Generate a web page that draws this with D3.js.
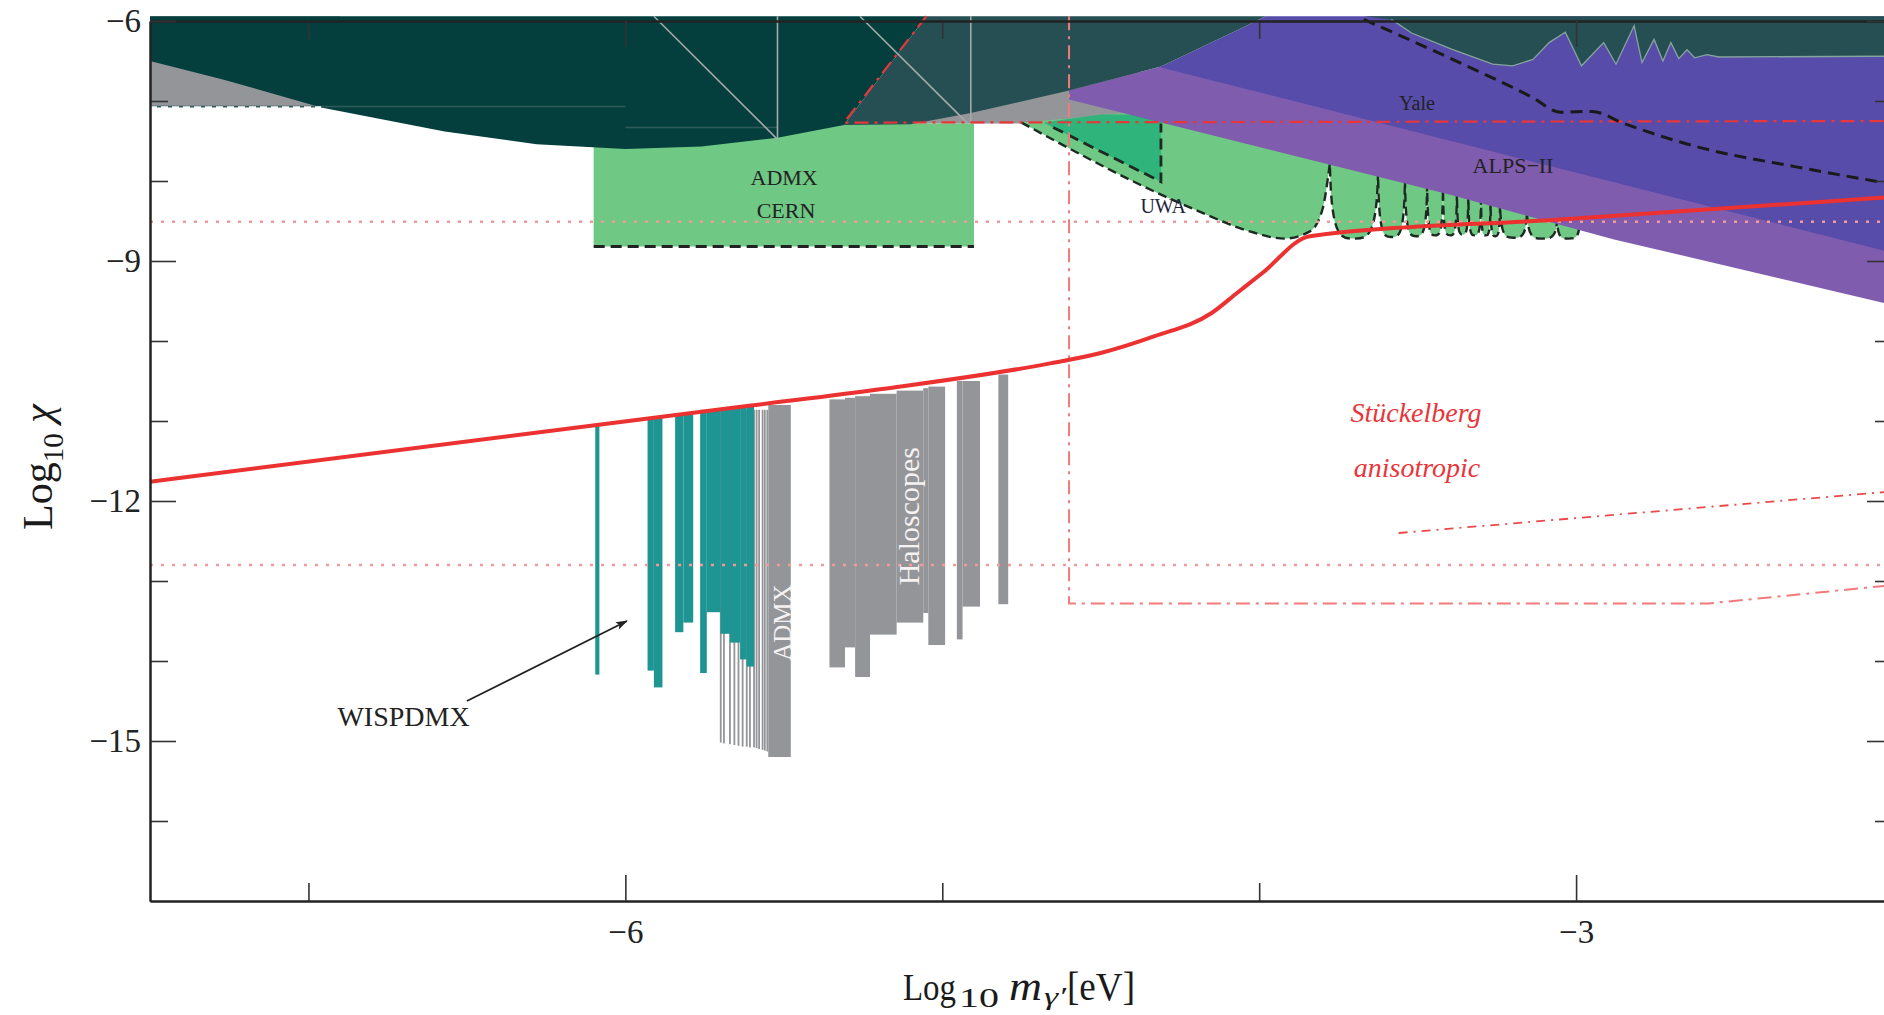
<!DOCTYPE html>
<html>
<head>
<meta charset="utf-8">
<script src="https://cdn.jsdelivr.net/npm/d3@7"></script>
<style>
  html, body { margin: 0; padding: 0; background: #fff; }
  svg text { font-family: "Liberation Serif", "DejaVu Serif", serif; }
</style>
</head>
<body>
<div id="chart"></div>
<script>
// Data, all in (log10 m [eV], log10 chi)
// ==========================================
var xMajorTicks = [-6, -3];
var xMinorTicks = [-7, -5, -4];
var yMajorTicks = [-6, -9, -12, -15];
var yMinorTicks = [-7, -8, -10, -11, -13, -14, -16];

// dark green excluded region (upper left)
var darkRegion = [[-7.5, -5.94], [-7.5, -6.5], [-7.27, -6.73], [-6.96, -7.08], [-6.57, -7.38],
    [-6.28, -7.54], [-6.0, -7.6], [-5.76, -7.57], [-5.52, -7.46], [-5.31, -7.3], [-5.05, -5.94]];

// lighter teal excluded region, lower edge left to right
var tealLowerEdge = [[-5.31, -7.3], [-5.10, -7.29], [-4.91, -7.15], [-4.6, -6.87], [-4.31, -6.57],
    [-4.03, -6.04], [-3.98, -5.94], [-3.67, -5.94], [-3.583, -5.98], [-3.519, -6.15], [-3.391, -6.355],
    [-3.263, -6.54], [-3.20, -6.56], [-3.136, -6.48], [-3.085, -6.27], [-3.034, -6.14], [-2.983, -6.56],
    [-2.913, -6.27], [-2.874, -6.54], [-2.817, -6.06], [-2.792, -6.52], [-2.754, -6.23], [-2.726, -6.5],
    [-2.701, -6.27], [-2.676, -6.47], [-2.65, -6.36], [-2.626, -6.46], [-2.587, -6.42], [-2.55, -6.45],
    [-2.0, -6.44]];
var tealTopEdge = [[-2.0, -5.94], [-5.05, -5.94]];

var grayTopLeft = [[-7.5, -5.94], [-6.9, -5.94], [-6.9, -7.08], [-7.5, -7.08]];
var grayMiddle = [[-5.12, -7.28], [-5.12, -7.0], [-4.38, -6.5], [-4.38, -7.28]];

var admxCernBox = [[-6.1, -7.28], [-4.9, -7.28], [-4.9, -8.82], [-6.1, -8.82]];

// UWA / resonant cavity region
var uwaMainLobe = [[-4.75, -7.27], [-4.61, -7.57], [-4.40, -8.0], [-4.19, -8.38], [-4.03, -8.63],
    [-3.92, -8.72], [-3.84, -8.63], [-3.80, -8.35], [-3.777, -7.78]];
var uwaSpikesX = [-3.777, -3.625, -3.54, -3.47, -3.42, -3.376, -3.34, -3.30, -3.27, -3.24, -3.155, -3.06, -2.99];
var uwaLobeBottom = [-8.72, -8.70, -8.69, -8.68, -8.68, -8.67, -8.68, -8.68, -8.69, -8.71, -8.72, -8.72];
var uwaUpperEdge = [[-2.99, -8.2], [-3.5, -7.6], [-4.0, -7.2], [-4.35, -7.12], [-4.6, -7.22], [-4.75, -7.27]];
var uwaTriangle = [[-4.68, -7.27], [-4.5, -7.17], [-4.31, -7.17], [-4.31, -8.01], [-4.65, -7.33]];

// ALPS-II and Yale bands
var alpsRegion = [[-4.6, -6.87], [-4.31, -6.57], [-4.0, -6.3], [-2.0, -6.3], [-2.0, -9.55],
    [-2.88, -8.73], [-3.4, -8.17], [-4.6, -6.98]];
var alpsLower = [[-4.6, -6.98], [-3.4, -8.17], [-2.88, -8.73], [-2.0, -9.55]];
var yaleRegion = [[-4.31, -6.57], [-4.03, -6.04], [-3.98, -5.94], [-2.0, -5.94], [-2.0, -8.9], [-4.31, -6.58]];
var yaleDashed = [[-3.67, -5.98], [-3.39, -6.48], [-3.14, -6.95], [-3.05, -7.14], [-2.95, -7.13],
    [-2.85, -7.28], [-2.62, -7.57], [-2.31, -7.82], [-2.0, -8.04]];

// WISPDMX bars: [x0, x1, top, bottom]
var wispdmxBars = [[-6.095, -6.082, -11.05, -14.17], [-5.93, -5.91, -10.97, -14.12], [-5.91, -5.883, -10.96, -14.33],
    [-5.843, -5.817, -10.93, -13.64], [-5.817, -5.786, -10.92, -13.52], [-5.764, -5.743, -10.86, -14.15],
    [-5.743, -5.70, -10.85, -13.39], [-5.70, -5.67, -10.84, -13.66], [-5.67, -5.638, -10.83, -13.77],
    [-5.638, -5.617, -10.82, -13.98], [-5.617, -5.594, -10.81, -14.07]];
// ADMX comb of narrow scans
var admxCombX = [-5.699, -5.689, -5.670, -5.656, -5.643, -5.630, -5.617, -5.607, -5.594, -5.586, -5.578, -5.567, -5.560, -5.552];
var admxCombBottom = [-15.02, -15.03, -15.04, -15.05, -15.06, -15.07, -15.07, -15.08, -15.08, -15.09, -15.1, -15.11, -15.12, -15.13];
// other haloscopes: [x0, x1, top, bottom]
var haloscopeBars = [[-5.549, -5.478, -10.80, -15.2],
    [-5.356, -5.307, -10.73, -14.08], [-5.307, -5.275, -10.71, -13.83], [-5.275, -5.228, -10.69, -14.2],
    [-5.228, -5.144, -10.66, -13.67], [-5.144, -5.060, -10.62, -13.52], [-5.060, -5.044, -10.59, -13.4],
    [-5.044, -4.991, -10.57, -13.8],
    [-4.954, -4.936, -10.50, -13.73], [-4.936, -4.881, -10.50, -13.32], [-4.823, -4.792, -10.42, -13.29]];

// red lines
var stueckelbergCurve = [[-7.5, -11.76], [-6.09, -11.05], [-5.61, -10.81], [-5.19, -10.6], [-4.66, -10.28],
    [-4.5, -10.15], [-4.33, -9.94], [-4.15, -9.65], [-4.07, -9.40], [-3.99, -9.15], [-3.84, -8.69],
    [-3.05, -8.48], [-2.0, -8.2]];
var redDashed = [[-5.05, -5.94], [-5.31, -7.27], [-2.0, -7.25]];
var redBox = [[-4.6, -5.94], [-4.6, -13.28], [-2.58, -13.28], [-2.0, -13.05]];
var anisotropicLine = [[-3.56, -12.4], [-2.0, -11.88]];
var redDotted = [-8.51, -12.8];

// Set up the chart
// ==========================================
var svgWidth = 1884;
var svgHeight = 1015;

var xScale = d3.scaleLinear().domain([-7.5, -2]).range([150, 1893]);
var yScale = d3.scaleLinear().domain([-17, -6]).range([901, 21]);

var svg = d3.select("#chart")
    .append("svg")
    .attr("width", svgWidth)
    .attr("height", svgHeight);

var defs = svg.append("defs");
defs.append("clipPath").attr("id", "plotClip")
    .append("rect")
    .attr("x", 150).attr("y", 14)
    .attr("width", 1743).attr("height", 887);

defs.append("marker")
    .attr("id", "arrow")
    .attr("viewBox", "0 0 12 8")
    .attr("refX", 11).attr("refY", 4)
    .attr("markerWidth", 12).attr("markerHeight", 8)
    .attr("markerUnits", "userSpaceOnUse")
    .attr("orient", "auto")
    .append("path")
    .attr("d", "M0,0 L12,4 L0,8 L2.5,4 Z")
    .attr("fill", "#222");

var plot = svg.append("g").attr("clip-path", "url(#plotClip)");

function toPx(pts) {
    return pts.map(function(p) { return [xScale(p[0]), yScale(p[1])]; });
}
var straight = d3.line();
var smooth = d3.line().curve(d3.curveMonotoneX);

function area(points, color) {
    plot.append("path")
        .attr("d", straight(toPx(points)) + "Z")
        .attr("fill", color);
}

function purpleLowerAt(x) {
    for (var i = 0; i < alpsLower.length - 1; i++) {
        var a = alpsLower[i], b = alpsLower[i + 1];
        if (x >= a[0] && x <= b[0]) return a[1] + (b[1] - a[1]) * (x - a[0]) / (b[0] - a[0]);
    }
    return alpsLower[alpsLower.length - 1][1];
}

// Filled regions
// ==========================================
area(grayTopLeft, "#939598");
area(grayMiddle, "#939598");
area(admxCernBox, "#6fc883");

// UWA region: main lobe + small resonance lobes
var lobeD = "";
for (var i = 0; i < uwaSpikesX.length - 1; i++) {
    var xl = xScale(uwaSpikesX[i]), xr = xScale(uwaSpikesX[i + 1]);
    var w = xr - xl;
    var yb = yScale(uwaLobeBottom[i]);
    var yt = yScale(purpleLowerAt(uwaSpikesX[i + 1]) + 0.05);
    lobeD += "C" + [xl + 0.03 * w, yb, xl + 0.22 * w, yb, (xl + xr) / 2, yb].join(",");
    lobeD += "C" + [xr - 0.22 * w, yb, xr - 0.03 * w, yb, xr, yt].join(",");
}
var uwaOutline = smooth(toPx(uwaMainLobe)) + lobeD;
var upperD = toPx(uwaUpperEdge).map(function(p) { return "L" + p[0] + "," + p[1]; }).join("");

plot.append("path").attr("d", uwaOutline + upperD + "Z").attr("fill", "#6fc883");
area(uwaTriangle, "#2fb47c");
plot.append("path").attr("d", uwaOutline)
    .attr("fill", "none").attr("stroke", "#1d2a22")
    .attr("stroke-width", 2.4).attr("stroke-dasharray", "9,5");
plot.append("path")
    .attr("d", straight(toPx([[-4.65, -7.33], [-4.31, -8.01], [-4.31, -7.28]])))
    .attr("fill", "none").attr("stroke", "#1d2a22")
    .attr("stroke-width", 2.8).attr("stroke-dasharray", "11,6");

area(alpsRegion, "#7f5cae");
area(yaleRegion, "#574ca9");
area(darkRegion, "#043f3e");
area(tealLowerEdge.concat(tealTopEdge), "#264f53");

// thin outline of the oscillating teal boundary
plot.append("path")
    .attr("d", straight(toPx(tealLowerEdge.slice(8))))
    .attr("fill", "none").attr("stroke", "#86a39d").attr("stroke-width", 1.3);

// faint lines inside the dark region
var faint = plot.append("g").attr("fill", "none");
faint.append("path").attr("d", straight(toPx([[-7.5, -7.07], [-6.0, -7.07]])))
    .attr("stroke", "#2e5b5a").attr("stroke-width", 1.5);
faint.append("path").attr("d", straight(toPx([[-6.0, -7.33], [-5.52, -7.33]])))
    .attr("stroke", "#2e5b5a").attr("stroke-width", 1.5);
[[[-5.91, -5.94], [-5.52, -7.48]], [[-5.52, -5.94], [-5.52, -7.48]],
 [[-5.26, -5.94], [-4.92, -7.28]], [[-4.91, -5.94], [-4.91, -7.28]]].forEach(function(seg) {
    faint.append("path").attr("d", straight(toPx(seg)))
        .attr("stroke", "#a4aaaa").attr("stroke-width", 1.6);
});
plot.append("path").attr("d", straight(toPx([[-7.5, -7.08], [-6.96, -7.08]])))
    .attr("fill", "none").attr("stroke", "#fff").attr("stroke-width", 2.2)
    .attr("stroke-dasharray", "7,4");

// Haloscope bars
// ==========================================
plot.selectAll(".comb")
    .data(admxCombX)
    .enter()
    .append("rect")
    .attr("x", d => xScale(d) - 0.9)
    .attr("width", 1.8)
    .attr("y", yScale(-10.86))
    .attr("height", (d, i) => yScale(admxCombBottom[i]) - yScale(-10.86))
    .attr("fill", "#939598");

plot.selectAll(".halo")
    .data(haloscopeBars)
    .enter()
    .append("rect")
    .attr("x", d => xScale(d[0]))
    .attr("width", d => xScale(d[1]) - xScale(d[0]))
    .attr("y", d => yScale(d[2]))
    .attr("height", d => yScale(d[3]) - yScale(d[2]))
    .attr("fill", "#939598");

plot.selectAll(".wisp")
    .data(wispdmxBars)
    .enter()
    .append("rect")
    .attr("x", d => xScale(d[0]))
    .attr("width", d => xScale(d[1]) - xScale(d[0]))
    .attr("y", d => yScale(d[2]))
    .attr("height", d => yScale(d[3]) - yScale(d[2]))
    .attr("fill", "#1f9593");

// Lines
// ==========================================
plot.selectAll(".dotted")
    .data(redDotted)
    .enter()
    .append("line")
    .attr("x1", xScale(-7.5)).attr("x2", xScale(-2))
    .attr("y1", d => yScale(d)).attr("y2", d => yScale(d))
    .attr("stroke", "#f29a9a").attr("stroke-width", 2.6)
    .attr("stroke-dasharray", "3,8");

plot.append("path").attr("d", straight(toPx(redBox)))
    .attr("fill", "none").attr("stroke", "#f27a7a").attr("stroke-width", 2)
    .attr("stroke-dasharray", "14,6,3,6");

plot.append("path").attr("d", straight(toPx(anisotropicLine)))
    .attr("fill", "none").attr("stroke", "#ea4a4a").attr("stroke-width", 1.8)
    .attr("stroke-dasharray", "9,6,2,6");

plot.append("path").attr("d", straight(toPx(redDashed)))
    .attr("fill", "none").attr("stroke", "#e8363a").attr("stroke-width", 2.2)
    .attr("stroke-dasharray", "14,6,3,6");

plot.append("path").attr("d", straight(toPx([[-6.1, -8.82], [-4.9, -8.82]])))
    .attr("fill", "none").attr("stroke", "#222").attr("stroke-width", 3)
    .attr("stroke-dasharray", "11,6");

plot.append("path").attr("d", smooth(toPx(yaleDashed)))
    .attr("fill", "none").attr("stroke", "#1a1a1a").attr("stroke-width", 3)
    .attr("stroke-dasharray", "12,7");

plot.append("path").attr("d", smooth(toPx(stueckelbergCurve)))
    .attr("fill", "none").attr("stroke", "#ec3131").attr("stroke-width", 4);

// Axes (ticks point inward, frame on all sides)
// ==========================================
function styleAxis(g) {
    g.selectAll("path").attr("stroke", "#222").attr("stroke-width", 2);
    g.selectAll("line").attr("stroke", "#333").attr("stroke-width", 1.6);
    g.selectAll("text").attr("fill", "#222").style("font-size", "33px");
}

svg.append("g").attr("transform", "translate(0,901)")
    .call(d3.axisBottom(xScale).tickValues(xMinorTicks).tickSize(-18).tickSizeOuter(0).tickFormat(""))
    .call(styleAxis);
svg.append("g").attr("transform", "translate(0,901)")
    .call(d3.axisBottom(xScale).tickValues(xMajorTicks).tickSize(-26).tickSizeOuter(0).tickPadding(19)
        .tickFormat(d => "\u2212" + Math.abs(d)))
    .call(styleAxis);
svg.append("g").attr("transform", "translate(0,21)")
    .call(d3.axisTop(xScale).tickValues(xMinorTicks).tickSize(-18).tickSizeOuter(0).tickFormat(""))
    .call(styleAxis);
svg.append("g").attr("transform", "translate(0,21)")
    .call(d3.axisTop(xScale).tickValues(xMajorTicks).tickSize(-26).tickSizeOuter(0).tickFormat(""))
    .call(styleAxis);

svg.append("g").attr("transform", "translate(150,0)")
    .call(d3.axisLeft(yScale).tickValues(yMinorTicks).tickSize(-18).tickSizeOuter(0).tickFormat(""))
    .call(styleAxis);
svg.append("g").attr("transform", "translate(150,0)")
    .call(d3.axisLeft(yScale).tickValues(yMajorTicks).tickSize(-26).tickSizeOuter(0).tickPadding(9)
        .tickFormat(d => "\u2212" + Math.abs(d)))
    .call(styleAxis);
svg.append("g").attr("transform", "translate(1893,0)")
    .call(d3.axisRight(yScale).tickValues(yMinorTicks).tickSize(-18).tickSizeOuter(0).tickFormat(""))
    .call(styleAxis);
svg.append("g").attr("transform", "translate(1893,0)")
    .call(d3.axisRight(yScale).tickValues(yMajorTicks).tickSize(-26).tickSizeOuter(0).tickFormat(""))
    .call(styleAxis);

// Axis titles
var yTitle = svg.append("text")
    .attr("transform", "translate(52,530) rotate(-90)")
    .attr("fill", "#1a1a1a")
    .style("font-size", "42px");
yTitle.append("tspan").text("Log");
yTitle.append("tspan").attr("dy", 11).style("font-size", "29px").text("10");
yTitle.append("tspan").attr("dy", -11).text(" ");
yTitle.append("tspan").style("font-style", "italic").text("\u03c7");

// x title pieces, each stretched to the width seen in the figure
var xTitle = svg.append("g").attr("fill", "#1a1a1a");
function titlePiece(text, x, y, size, len, italic) {
    xTitle.append("text")
        .attr("x", x).attr("y", y)
        .attr("textLength", len).attr("lengthAdjust", "spacingAndGlyphs")
        .style("font-size", size + "px")
        .style("font-style", italic ? "italic" : "normal")
        .text(text);
}
titlePiece("Log", 903, 1000, 37, 53, false);
titlePiece("10", 959, 1007, 27, 40, false);
titlePiece("m", 1009, 1000, 39, 33, true);
titlePiece("\u03b3\u2032", 1044, 1005, 26, 22, true);
titlePiece("[eV]", 1067, 1000, 39, 68, false);

// Region labels
// ==========================================
function label(text, x, y, size, color, extra) {
    var t = svg.append("text")
        .attr("x", xScale(x)).attr("y", yScale(y))
        .attr("dy", "0.35em")
        .attr("text-anchor", "middle")
        .attr("fill", color)
        .style("font-size", size + "px")
        .text(text);
    if (extra) extra(t);
    return t;
}
label("ADMX", -5.499, -7.955, 22, "#222");
label("CERN", -5.493, -8.37, 22, "#222");
label("UWA", -4.303, -8.318, 20, "#1c2440");
label("Yale", -3.502, -7.02, 20, "#222");
label("ALPS\u2212II", -3.199, -7.807, 22, "#222");
label("WISPDMX", -6.70, -14.69, 28, "#222");
label("St\u00fcckelberg", -3.505, -10.89, 28, "#e8363a", t => t.style("font-style", "italic"));
label("anisotropic", -3.502, -11.58, 28, "#e8363a", t => t.style("font-style", "italic"));

svg.append("text")
    .attr("transform", "translate(" + xScale(-5.108) + "," + yScale(-12.19) + ") rotate(-90)")
    .attr("dy", "0.35em").attr("text-anchor", "middle")
    .attr("fill", "#f6f2f2").style("font-size", "30px")
    .text("Haloscopes");
svg.append("text")
    .attr("transform", "translate(" + xScale(-5.506) + "," + yScale(-13.52) + ") rotate(-90)")
    .attr("dy", "0.35em").attr("text-anchor", "middle")
    .attr("fill", "#f6f2f2").style("font-size", "25px")
    .text("ADMX");

// WISPDMX arrow
svg.append("path")
    .attr("d", straight(toPx([[-6.5, -14.5], [-5.995, -13.5]])))
    .attr("stroke", "#222").attr("stroke-width", 1.8)
    .attr("marker-end", "url(#arrow)");
</script>
</body>
</html>
